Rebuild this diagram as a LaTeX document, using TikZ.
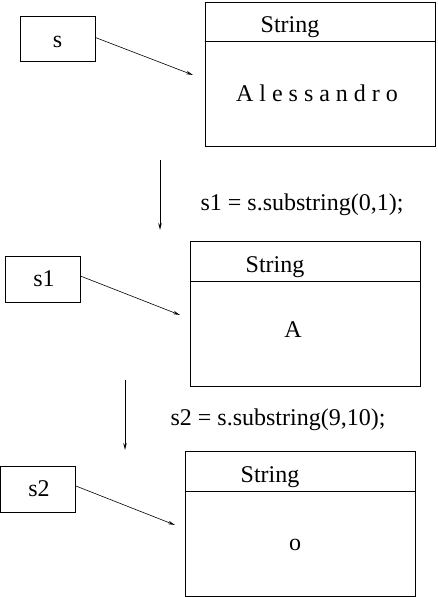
\documentclass[tikz,border=0pt]{standalone}
\usepackage{fontspec}
\setmainfont{Liberation Serif}
\usetikzlibrary{arrows.meta}
\begin{document}
\begin{tikzpicture}[x=1pt,y=-1pt,
  refbox/.style={draw,line width=0.8pt,minimum width=75pt,minimum height=45pt,inner sep=0pt},
  objbox/.style={draw,line width=0.8pt,minimum width=230pt,minimum height=144pt,inner sep=0pt},
  lbl/.style={inner sep=0pt,anchor=base,font=\fontsize{24}{28}\selectfont},
  ptr/.style={line width=0.6pt,-{Stealth[length=7pt,width=3.5pt,open]}}]
\useasboundingbox (0,0) rectangle (437,597);
% top
\node[refbox] (s) at (57.5,38.5) {};
\node[lbl] (sl) at (57.5,47) {s};
\node[objbox] (o1) at (320,74) {};
\draw[line width=0.8pt] (o1.west |- 0,41) -- (o1.east |- 0,41);
\node[lbl] (t1) at (290,32) {String};
\node[lbl] (v1) at (317,101) {A l e s s a n d r o};
\coordinate (e1) at (193,75);
\draw[ptr] (s.east) ++(0,-1) -- (e1);
% step 1
\coordinate (a1s) at (160,160);
\coordinate (a1e) at (160,230);
\draw[ptr] (a1s) -- (a1e);
\node[lbl] (c1) at (302,210) {s1 = s.substring(0,1);};
% middle
\node[refbox,minimum height=46pt] (r1) at (42.5,279) {};
\node[lbl] (r1l) at (44,286) {s1};
\node[objbox,minimum height=145pt] (o2) at (305,313.5) {};
\draw[line width=0.8pt] (o2.west |- 0,281) -- (o2.east |- 0,281);
\node[lbl] (t2) at (275,272) {String};
\node[lbl] (v2) at (293,337) {A};
\coordinate (e2) at (180,315);
\draw[ptr] (r1.east) ++(0,-3) -- (e2);
% step 2
\coordinate (a2s) at (125,380);
\coordinate (a2e) at (125,450);
\draw[ptr] (a2s) -- (a2e);
\node[lbl] (c2) at (278,425) {s2 = s.substring(9,10);};
% bottom
\node[refbox,minimum height=46pt] (r2) at (38,489) {};
\node[lbl] (r2l) at (39,496) {s2};
\node[objbox,minimum height=145pt] (o3) at (300,523.5) {};
\draw[line width=0.8pt] (o3.west |- 0,491) -- (o3.east |- 0,491);
\node[lbl] (t3) at (270,482) {String};
\node[lbl] (v3) at (295,550) {o};
\coordinate (e3) at (175,525);
\draw[ptr] (r2.east) ++(0,-3) -- (e3);
\end{tikzpicture}
\end{document}
